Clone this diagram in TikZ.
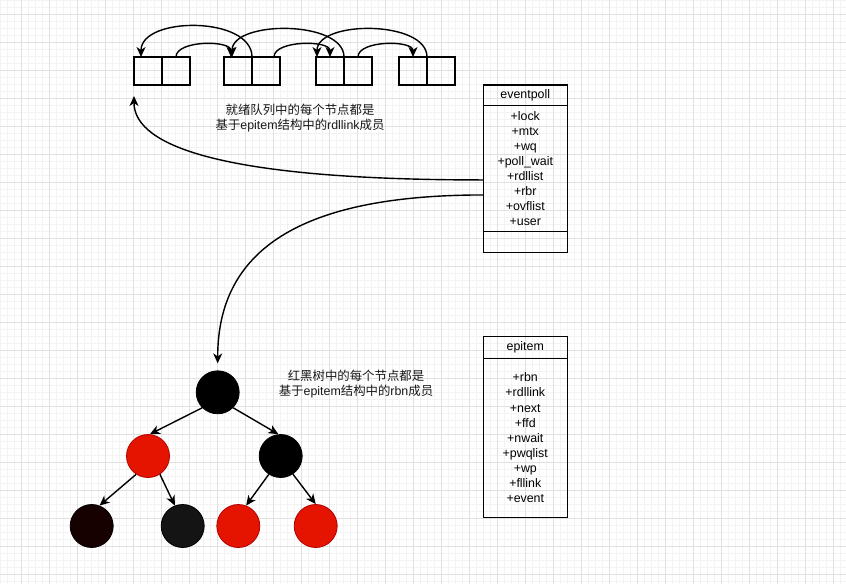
\documentclass[tikz,border=0pt]{standalone}
\usepackage{fontspec}
\setmainfont{Liberation Sans}
\newfontfamily\cjk{Noto Sans CJK SC}
\usepackage{xcolor}
\usetikzlibrary{arrows.meta,positioning,calc}
\definecolor{gridmajor}{HTML}{E0E0E0}
\definecolor{gridminor}{HTML}{F3F3F3}
\definecolor{nodered}{HTML}{E51400}
\definecolor{noderedline}{HTML}{B20000}
\definecolor{leafdark}{HTML}{160000}
\definecolor{leafgray}{HTML}{141414}

\begin{document}
\begin{tikzpicture}[x=1pt,y=-1pt,
    font=\fontsize{12.4pt}{15.1pt}\selectfont,
    cell/.style={draw, line width=1.4pt, minimum width=28pt, minimum height=28pt, inner sep=0pt, outer sep=0pt},
    link/.style={line width=1.4pt, -{Stealth[length=10pt,width=9pt,inset=3pt]}},
    umlhead/.style={draw, line width=1.4pt, minimum width=84pt, outer sep=0pt, inner sep=0pt},
    umlbody/.style={umlhead, align=center},
    hint/.style={align=center, text=black!90},
    rbnode/.style={circle, minimum size=43pt, inner sep=0pt, line width=0.8pt},
    rbblack/.style={rbnode, draw=black, fill=black},
    rbred/.style={rbnode, draw=noderedline, fill=nodered}]
    \useasboundingbox[fill=white] (0,0) rectangle (846,584);
    \foreach \k in {0,...,120} \draw[gridminor, line width=0.6pt] (0.3+7*\k,0) -- ++(0,584);
    \foreach \k in {0,...,83} \draw[gridminor, line width=0.6pt] (0,7*\k) -- ++(846,0);
    \foreach \k in {0,...,29} \draw[gridmajor, line width=0.8pt] (21.3+28*\k,0) -- ++(0,584);
    \foreach \k in {0,...,20} \draw[gridmajor, line width=0.8pt] (0,14+28*\k) -- ++(846,0);

    \node[cell] (n1a) at (148,71) {};
    \node[cell, right=0pt of n1a] (n1b) {};
    \node[cell] (n2a) at (238,71) {};
    \node[cell, right=0pt of n2a] (n2b) {};
    \node[cell] (n3a) at (330,71) {};
    \node[cell, right=0pt of n3a] (n3b) {};
    \node[cell] (n4a) at (413,71) {};
    \node[cell, right=0pt of n4a] (n4b) {};

    \draw[link] (n1b.north) .. controls +(0,-17) and +(0,-17) .. ([xshift=-7pt]n2a.north);
    \draw[link] (n2a.north east) .. controls +(0,-41) and +(0,-41) .. ([xshift=-7pt]n1a.north);
    \draw[link] ([xshift=8pt]n2b.north) .. controls +(0,-17) and +(0,-17) .. (n3a.north);
    \draw[link] (n3a.north east) .. controls +(0,-37) and +(0,-37) .. ([xshift=-6pt]n2a.north);
    \draw[link] (n3b.north) .. controls +(0,-17) and +(0,-17) .. (n4a.north);
    \draw[link] (n4a.north east) .. controls +(0,-37) and +(0,-37) .. ([xshift=-13pt]n3a.north);

    \node[umlhead, minimum height=20.7pt] (epollhd) at (525.3,95.3) {eventpoll};
    \node[umlbody, minimum height=126pt, below=0pt of epollhd] (epollbd) {+lock\\+mtx\\+wq\\+poll\_wait\\+rdllist\\+rbr\\+ovflist\\+user};
    \node[umlhead, minimum height=21pt, below=0pt of epollbd] (epollft) {};

    \node[umlhead, minimum height=21.6pt] (epihd) at (525.3,347.5) {epitem};
    \node[umlbody, minimum height=159pt, below=0pt of epihd] (epibd) {+rbn\\+rdllink\\+next\\+ffd\\+nwait\\+pwqlist\\+wp\\+fllink\\+event};

    \node[hint] (rdlhint) at (300,118) {{\cjk 就绪队列中的每个节点都是}\\{\cjk 基于}epitem{\cjk 结构中的}rdllink{\cjk 成员}};
    \node[hint] (rbnhint) at (356,384) {{\cjk 红黑树中的每个节点都是}\\{\cjk 基于}epitem{\cjk 结构中的}rbn{\cjk 成员}};

    \node[rbblack] (rbroot) at (217.7,392.3) {};
    \node[rbred] (rbl) at (148,456) {};
    \node[rbblack] (rbr) at (280.7,456) {};
    \node[rbnode, draw=black, fill=leafdark] (rbll) at (91.7,526) {};
    \node[rbnode, draw=black, fill=leafgray] (rblr) at (182.7,526) {};
    \node[rbred] (rbrl) at (238.3,526) {};
    \node[rbred] (rbrr) at (315.7,526) {};

    \draw[link] (rbroot.225) -- (rbl.85);
    \draw[link] (rbroot.-45) -- (rbr.96);
    \draw[link] (rbl.237) -- (rbll.69);
    \draw[link] (rbl.-57) -- (rblr.111);
    \draw[link] (rbr.237) -- (rbrl.69);
    \draw[link] (rbr.-56) -- (rbrr.90);

    \draw[link, shorten >=11pt] ([yshift=-11.3pt]epollbd.west) .. controls +(-284,0) and +(0,55) .. (n1a.south west);
    \draw[link, shorten >=7pt] ([yshift=-26.3pt]epollbd.west) .. controls +(-184,0) and +(0,-120) .. (rbroot.north);
\end{tikzpicture}
\end{document}
